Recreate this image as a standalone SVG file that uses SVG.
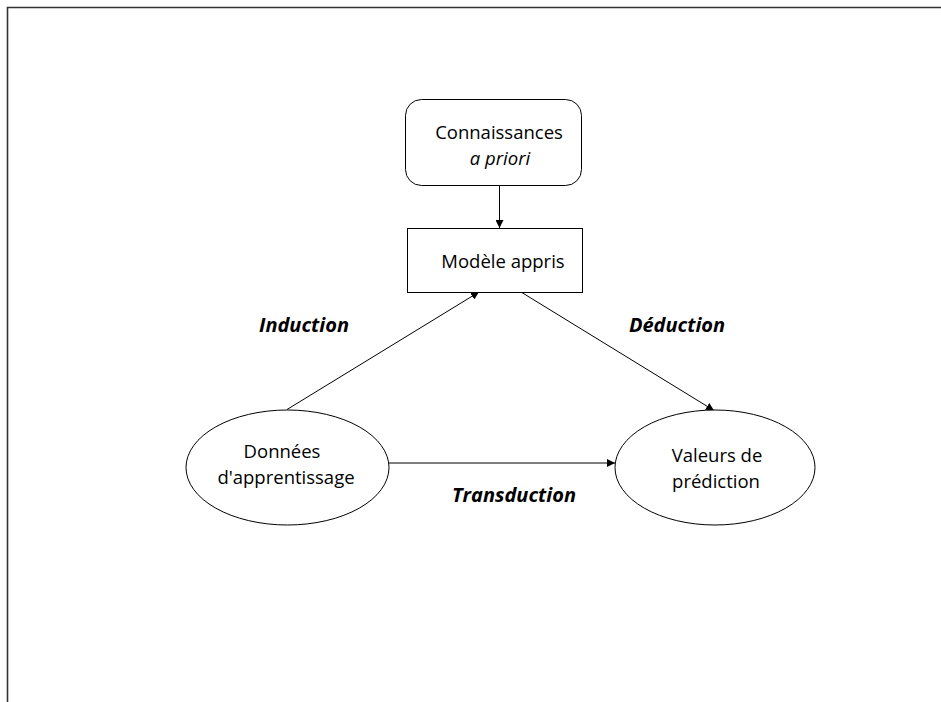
<svg xmlns="http://www.w3.org/2000/svg" width="941" height="702" viewBox="0 0 941 702">
<defs>
<marker id="ah" viewBox="0 0 10 10" refX="10" refY="5" markerWidth="8" markerHeight="8" markerUnits="userSpaceOnUse" orient="auto">
<path d="M0,0 L10,5 L0,10 z" fill="#000"/>
</marker>
</defs>
<style>
.shape{fill:#fff;stroke:#000;stroke-width:1}
.t{font-family:"Open Sans","Liberation Sans",sans-serif;font-size:18.5px;fill:#000;text-anchor:middle}
.lbl{font-family:"Open Sans","Liberation Sans",sans-serif;font-size:20px;font-weight:bold;font-style:italic;fill:#000;text-anchor:middle}
.conn{stroke:#000;stroke-width:1;fill:none;marker-end:url(#ah)}
</style>
<rect width="941" height="702" fill="#fff"/>
<path d="M7.5,702 V7.5 H941" fill="none" stroke="#333" stroke-width="1.6"/>
<g id="connectors">
<line class="conn" x1="499.5" y1="186" x2="499.5" y2="228"/>
<line class="conn" x1="287" y1="409.5" x2="479" y2="292"/>
<line class="conn" x1="521" y1="292" x2="714" y2="410.5"/>
<line class="conn" x1="389" y1="463" x2="615" y2="463"/>
</g>
<g id="connaissances">
<rect class="shape" x="405.5" y="99.5" width="176" height="86" rx="16"/>
<text class="t" x="499" y="139">Connaissances</text>
<text class="t" x="500" y="165" font-style="italic">a priori</text>
</g>
<g id="modele">
<rect class="shape" x="407.5" y="228.5" width="175" height="64"/>
<text class="t" x="503" y="268">Modèle appris</text>
</g>
<g id="donnees">
<ellipse class="shape" cx="287.5" cy="467.5" rx="101.5" ry="57.5"/>
<text class="t" x="282" y="458">Données</text>
<text class="t" x="286" y="484">d'apprentissage</text>
</g>
<g id="valeurs">
<ellipse class="shape" cx="715" cy="467.5" rx="100" ry="57.5"/>
<text class="t" x="717" y="462">Valeurs de</text>
<text class="t" x="716" y="488">prédiction</text>
</g>
<g id="labels">
<text class="lbl" x="304" y="332">Induction</text>
<text class="lbl" x="677" y="332">Déduction</text>
<text class="lbl" x="514" y="502">Transduction</text>
</g>
</svg>
